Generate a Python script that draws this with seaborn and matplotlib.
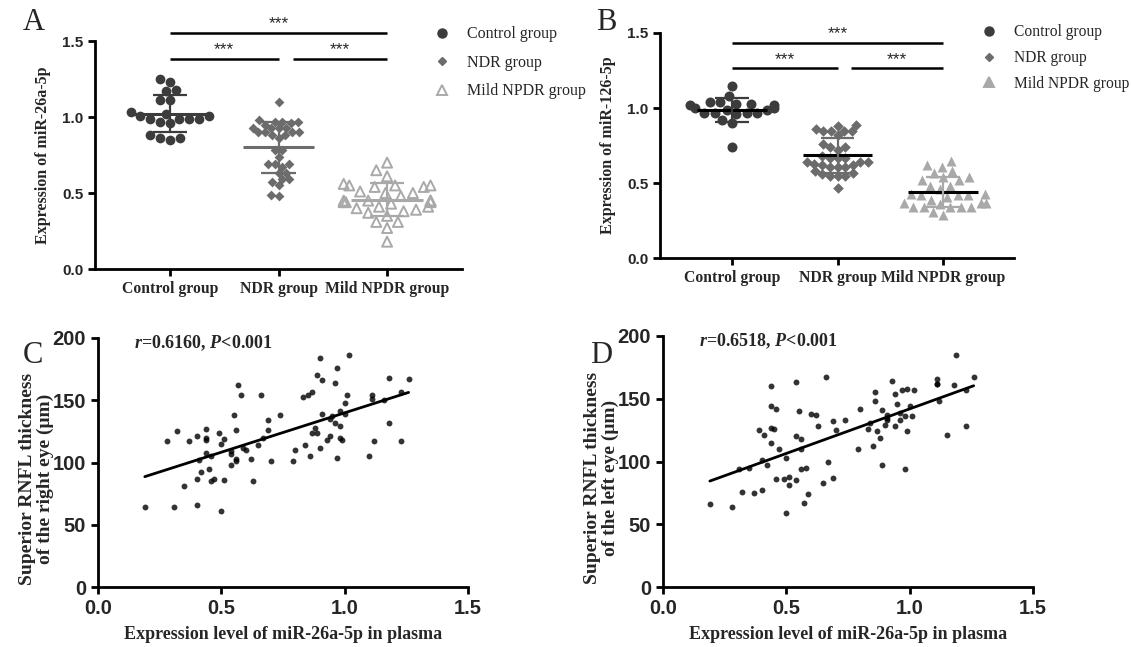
import numpy as np
import pandas as pd
import matplotlib
matplotlib.use("Agg")
import matplotlib.pyplot as plt
import seaborn as sns
from matplotlib.lines import Line2D

sns.set_theme(style="ticks")
plt.rcParams["font.family"] = ["Liberation Serif", "DejaVu Sans"]
plt.rcParams["mathtext.fontset"] = "custom"
plt.rcParams["mathtext.rm"] = "Liberation Serif:bold"
plt.rcParams["mathtext.it"] = "Liberation Serif:italic:bold"
plt.rcParams["mathtext.bf"] = "Liberation Serif:bold"

# ---------------- data ----------------
groups = ["Control group", "NDR group", "Mild NPDR group"]

a_control = [1.25, 1.23, 1.18, 1.17, 1.11, 1.11, 1.02, 1.01, 1.01, 0.96, 0.97,
             0.99, 0.99, 0.99, 0.99, 0.88, 0.86, 0.86, 0.85, 1.03]
a_ndr = [1.10, 0.93, 0.95, 0.97, 0.98, 0.97, 0.97, 0.96, 0.93, 0.93, 0.93, 0.88,
         0.86, 0.90, 0.90, 0.90, 0.90, 0.88, 0.78, 0.78, 0.74, 0.69, 0.69, 0.69,
         0.67, 0.63, 0.63, 0.59, 0.59, 0.57, 0.55, 0.49, 0.48]
a_mild = [0.70, 0.65, 0.61, 0.54, 0.55, 0.54, 0.56, 0.55, 0.55, 0.50, 0.50, 0.48,
          0.45, 0.44, 0.44, 0.45, 0.45, 0.45, 0.44, 0.39, 0.40, 0.41, 0.41, 0.38,
          0.35, 0.37, 0.31, 0.31, 0.27, 0.18, 0.51, 0.43]

b_control = [1.15, 1.08, 1.02, 1.02, 1.03, 1.04, 1.04, 1.03, 0.96, 0.97, 0.97,
             0.97, 0.99, 0.99, 0.97, 1.00, 1.00, 0.90, 0.92, 0.74]
b_ndr = [0.89, 0.88, 0.85, 0.85, 0.85, 0.86, 0.85, 0.82, 0.74, 0.74, 0.76, 0.72,
         0.67, 0.64, 0.64, 0.64, 0.67, 0.68, 0.67, 0.63, 0.61, 0.61, 0.62, 0.61,
         0.62, 0.56, 0.55, 0.55, 0.55, 0.57, 0.58, 0.47]
b_mild = [0.65, 0.62, 0.61, 0.58, 0.57, 0.52, 0.54, 0.52, 0.54, 0.48, 0.48, 0.42,
          0.42, 0.42, 0.43, 0.46, 0.43, 0.41, 0.37, 0.37, 0.36, 0.34, 0.34, 0.34,
          0.34, 0.31, 0.29, 0.34, 0.37, 0.39]

c_x = [0.19, 0.28, 0.32, 0.31, 0.35, 0.37, 0.40, 0.40, 0.40, 0.41, 0.42, 0.44,
       0.44, 0.44, 0.44, 0.45, 0.46, 0.46, 0.47, 0.49, 0.50, 0.51, 0.50, 0.51,
       0.54, 0.54, 0.54, 0.55, 0.56, 0.56, 0.56, 0.57, 0.58, 0.59, 0.60, 0.62,
       0.63, 0.65, 0.66, 0.67, 0.69, 0.69, 0.70, 0.74, 0.79, 0.80, 0.83, 0.84,
       0.85, 0.86, 0.87, 0.87, 0.88, 0.89, 0.89, 0.90, 0.90, 0.91, 0.91, 0.93,
       0.94, 0.94, 0.95, 0.96, 0.96, 0.97, 0.97, 0.98, 0.98, 0.98, 0.99, 1.00,
       1.00, 1.01, 1.02, 1.10, 1.11, 1.11, 1.12, 1.16, 1.18, 1.18, 1.23, 1.23,
       1.26]
c_y = [64, 117, 125, 64, 81, 117, 121, 87, 66, 102, 92, 127, 120, 118, 108, 95,
       105, 85, 87, 124, 115, 119, 61, 86, 109, 107, 98, 138, 126, 103, 101, 162,
       154, 112, 110, 103, 85, 114, 154, 120, 126, 134, 101, 138, 101, 110, 153,
       114, 154, 105, 157, 124, 128, 170, 124, 184, 112, 166, 139, 118, 121, 135,
       137, 164, 132, 104, 176, 129, 120, 141, 118, 148, 139, 154, 186, 105, 154,
       151, 117, 150, 132, 168, 117, 157, 167]

d_x = [0.19, 0.28, 0.31, 0.32, 0.35, 0.37, 0.39, 0.40, 0.40, 0.41, 0.42, 0.44,
       0.44, 0.44, 0.44, 0.45, 0.46, 0.46, 0.47, 0.49, 0.50, 0.50, 0.51, 0.51,
       0.54, 0.54, 0.54, 0.55, 0.56, 0.56, 0.56, 0.57, 0.58, 0.59, 0.60, 0.62,
       0.63, 0.65, 0.66, 0.67, 0.69, 0.69, 0.70, 0.74, 0.79, 0.80, 0.83, 0.84,
       0.85, 0.86, 0.86, 0.87, 0.88, 0.89, 0.89, 0.90, 0.91, 0.91, 0.91, 0.93,
       0.94, 0.94, 0.95, 0.96, 0.96, 0.97, 0.98, 0.98, 0.99, 0.99, 1.00, 1.01,
       1.02, 1.11, 1.11, 1.11, 1.12, 1.15, 1.18, 1.19, 1.23, 1.23, 1.26]
d_y = [66, 64, 94, 76, 95, 75, 125, 77, 101, 121, 97, 160, 144, 127, 115, 126,
       142, 86, 110, 86, 103, 59, 88, 81, 163, 120, 85, 140, 118, 110, 94, 67,
       95, 74, 138, 137, 128, 83, 167, 100, 132, 87, 125, 133, 110, 142, 126,
       131, 112, 155, 148, 124, 119, 141, 97, 129, 135, 133, 137, 164, 154, 128,
       146, 139, 133, 157, 136, 94, 158, 124, 144, 136, 157, 162, 166, 162, 148,
       121, 161, 185, 128, 157, 167]

colors = ["#3c3c3c", "#6c6c6c", "#a9a9a9"]

# ---------------- figure ----------------
fig = plt.figure(figsize=(11.31, 6.47), dpi=100)
axA = fig.add_axes([0.084, 0.5842, 0.3245, 0.3524])
axB = fig.add_axes([0.5836, 0.6012, 0.313, 0.3478])
axC = fig.add_axes([0.0866, 0.0927, 0.327, 0.3849])
axD = fig.add_axes([0.5862, 0.0927, 0.327, 0.3880])

tickfont = dict(family="Liberation Sans", weight="bold")


def style_axes(ax, tick_size):
    for s in ["top", "right"]:
        ax.spines[s].set_visible(False)
    for s in ["left", "bottom"]:
        ax.spines[s].set_linewidth(2)
        ax.spines[s].set_color("black")
    ax.tick_params(width=2, length=5, color="black", labelsize=tick_size)


def dot_panel(ax, sets, mean_colors, tri_open, ylabel, bar_low, bar_top, xlim,
              sizes):
    markers = ["o", "D", "^"]
    for i, (vals, col) in enumerate(zip(sets, colors)):
        kw = dict(marker=markers[i], size=sizes[i], color=col, linewidth=0)
        if i == 2 and tri_open:
            kw.update(facecolor="none", edgecolor=col, linewidth=1.4)
        sns.swarmplot(x=[groups[i]] * len(vals), y=vals, order=groups, ax=ax,
                      zorder=2, warn_thresh=1.0, **kw)
    for i, vals in enumerate(sets):
        m = np.mean(vals)
        sd = np.std(vals, ddof=1)
        ax.hlines(m, i - 0.33, i + 0.33, color=mean_colors[i], lw=2.2, zorder=4)
        ax.vlines(i, m - sd, m + sd, color=colors[i], lw=1.6, zorder=4)
        ax.hlines([m - sd, m + sd], i - 0.16, i + 0.16, color=colors[i],
                  lw=1.6, zorder=4)
    ax.set_xlim(*xlim)
    ax.set_ylim(0, 1.5)
    ax.set_yticks([0, 0.5, 1.0, 1.5])
    ax.set_yticklabels(["0.0", "0.5", "1.0", "1.5"], **tickfont)
    style_axes(ax, 11)
    ax.set_xticks([0, 1, 2])
    ax.set_xticklabels(groups, fontsize=11.3, fontweight="bold",
                       family="Liberation Serif")
    ax.set_xlabel("")
    ax.set_ylabel(ylabel, fontsize=11.5, fontweight="bold", labelpad=8)
    # significance bars
    for (x0, x1, yv) in [(0, 2, bar_top), (0, 1, bar_low), (1.13, 2, bar_low)]:
        ax.plot([x0, x1], [yv, yv], color="black", lw=1.8, clip_on=False,
                solid_capstyle="butt")
        ax.text((x0 + x1) / 2, yv + 0.01, "***", ha="center", va="bottom",
                fontsize=12.5, family="Liberation Sans")


dot_panel(axA, [a_control, a_ndr, a_mild], colors, True,
          "Expression of miR-26a-5p", 1.385, 1.555, (-0.69, 2.69),
          [7.0, 5.0, 7.2])
dot_panel(axB, [b_control, b_ndr, b_mild], ["black", "black", "black"], False,
          "Expression of miR-126-5p", 1.265, 1.435, (-0.68, 2.67),
          [7.2, 5.4, 7.2])


def legend(ax, tri_open, anchor, fs, spacing):
    handles = [
        Line2D([], [], marker="o", ls="none", color=colors[0], markersize=6.5),
        Line2D([], [], marker="D", ls="none", color=colors[1], markersize=4.5),
        Line2D([], [], marker="^", ls="none", color=colors[2], markersize=7,
               markerfacecolor="none" if tri_open else colors[2],
               markeredgewidth=1.4),
    ]
    ax.legend(handles, groups, loc="upper left", bbox_to_anchor=anchor,
              bbox_transform=fig.transFigure, frameon=False, fontsize=fs,
              handlelength=1.0, handletextpad=1.1, labelspacing=spacing,
              borderaxespad=0)


legend(axA, True, (0.378, 0.969), 11.5, 0.78)
legend(axB, False, (0.862, 0.972), 11.2, 0.62)


def scatter_panel(ax, xs, ys, ylabel, txt):
    sns.regplot(x=xs, y=ys, ax=ax, ci=None, color="black", truncate=True,
                scatter_kws=dict(s=18, linewidths=0),
                line_kws=dict(lw=2))
    ax.set_xlim(0, 1.5)
    ax.set_ylim(0, 200)
    ax.set_xticks([0, 0.5, 1.0, 1.5])
    ax.set_xticklabels(["0.0", "0.5", "1.0", "1.5"], **tickfont)
    ax.set_yticks([0, 50, 100, 150, 200])
    ax.set_yticklabels(["0", "50", "100", "150", "200"], **tickfont)
    style_axes(ax, 14.5)
    ax.set_xlabel("Expression level of miR-26a-5p in plasma", fontsize=13,
                  fontweight="bold", labelpad=6)
    ax.set_ylabel(ylabel, fontsize=14, fontweight="bold", linespacing=1.05)
    ax.yaxis.set_label_coords(-0.118, 0.435)
    ax.text(0.145, 196, txt, fontsize=13, fontweight="bold", ha="left",
            va="center")


scatter_panel(axC, c_x, c_y, "Superior RNFL thickness\nof the right eye (\u03bcm)",
              r"$r$=0.6160, $P$<0.001")
scatter_panel(axD, d_x, d_y, "Superior RNFL thickness\nof the left eye (\u03bcm)",
              r"$r$=0.6518, $P$<0.001")

for lab, (x, y) in zip("ABCD", [(0.020, 0.965), (0.527, 0.965),
                                 (0.020, 0.450), (0.522, 0.450)]):
    fig.text(x, y, lab, fontsize=22, family="Liberation Serif", va="center")

fig.savefig("out.png", dpi=100)
